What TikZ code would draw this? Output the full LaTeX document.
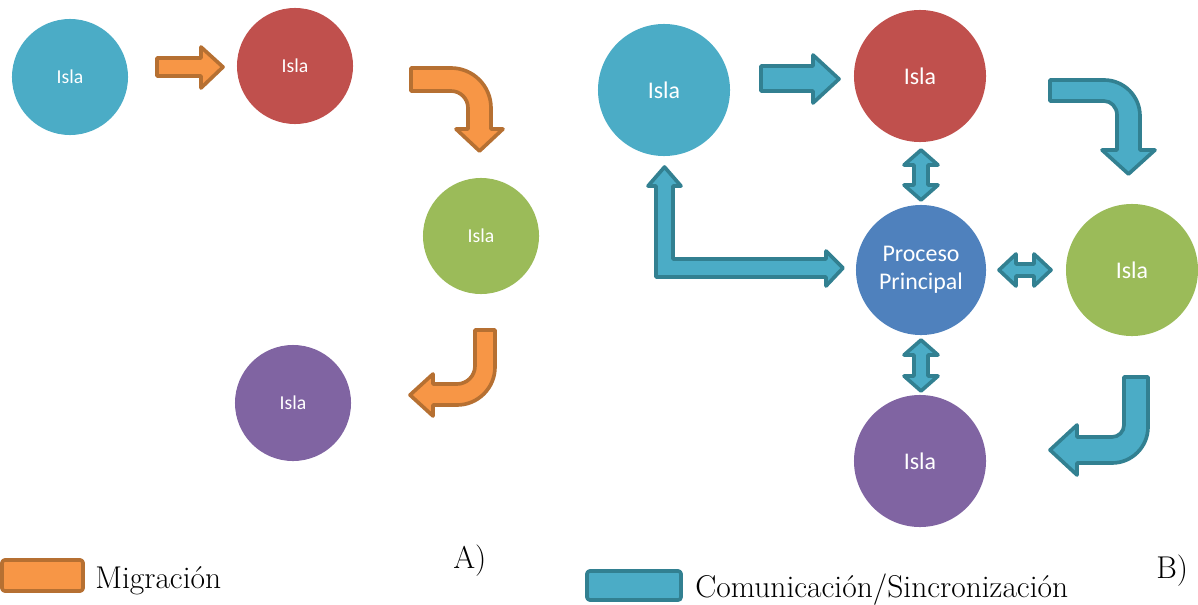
\documentclass[tikz,border=0pt]{standalone}
\usepackage{fontspec}
\newfontfamily\calib{Carlito}
\definecolor{cCyan}{HTML}{4BACC6}
\definecolor{cRed}{HTML}{C0504D}
\definecolor{cGreen}{HTML}{9BBB59}
\definecolor{cPurple}{HTML}{8064A2}
\definecolor{cBlue}{HTML}{4F81BD}
\definecolor{migFill}{HTML}{F79646}
\definecolor{migLine}{RGB}{182,112,50}
\definecolor{comFill}{HTML}{4BACC6}
\definecolor{comLine}{RGB}{50,128,145}
\begin{document}
\begin{tikzpicture}[x=0.025cm,y=-0.025cm,
  isla/.style={circle,inner sep=0pt,text=white,align=center},
  islaA/.style={isla,minimum size=2.9cm,font=\calib\fontsize{14}{17}\selectfont},
  islaB/.style={isla,minimum size=3.3cm,font=\calib\fontsize{17}{20}\selectfont},
  migr/.style={fill=migFill,draw=migLine,line width=2.6pt,line join=round},
  comu/.style={fill=comFill,draw=comLine,line width=2.6pt,line join=round},
  legend/.style={inner sep=0pt,anchor=base west,font=\fontsize{22.4}{26}\selectfont}]
\useasboundingbox (0,0) rectangle (1198,605);

% ---------------- A) migration between islands ----------------
\node[islaA,fill=cCyan]   (a1) at (70,77)   {Isla};
\node[islaA,fill=cRed]    (a2) at (295,66)  {Isla};
\node[islaA,fill=cGreen]  (a3) at (481,236) {Isla};
\node[islaA,fill=cPurple] (a4) at (293,403) {Isla};

% straight block arrow a1 -> a2
\draw[migr] (157,58) -- (201,58) -- (201,47) -- (223,67) -- (201,88)
  -- (201,76) -- (157,76) -- cycle;
% bent block arrow a2 -> a3
\draw[migr] (411,68) -- (451,68) .. controls (473.1,68) and (491,85.9) .. (491,108)
  -- (491,129) -- (503,129) -- (479.5,151) -- (456,129) -- (468,129) -- (468,108)
  .. controls (468,98.6) and (460.4,91) .. (451,91) -- (411,91) -- cycle;
% bent block arrow a3 -> a4
\draw[migr] (475,330) -- (495,330) -- (495,367) .. controls (495,388) and (478,405) .. (457,405)
  -- (433,405) -- (433,416) -- (410,395) -- (433,374) -- (433,384) -- (457,384)
  .. controls (466.9,384) and (475,375.9) .. (475,366) -- cycle;

% ---------------- B) islands around the main process ----------------
\node[islaB,fill=cCyan]   (b1) at (664,90)   {Isla};
\node[islaB,fill=cRed]    (b2) at (920,76)   {Isla};
\node[islaB,fill=cBlue,minimum size=3.25cm] (pp) at (921,270) {Proceso\\Principal};
\node[islaB,fill=cGreen]  (b3) at (1132,270) {Isla};
\node[islaB,fill=cPurple] (b4) at (920,461)  {Isla};

% straight block arrow b1 -> b2
\draw[comu] (761,66) -- (813,66) -- (813,55) -- (839,79) -- (813,103)
  -- (813,91) -- (761,91) -- cycle;
% bent block arrow b2 -> b3
\draw[comu] (1050,80) -- (1104,80) .. controls (1123.9,80) and (1140,96.1) .. (1140,116)
  -- (1140,150) -- (1155,150) -- (1128.5,174) -- (1102,150) -- (1117,150) -- (1117,115)
  .. controls (1117,107) and (1111,101) .. (1104,101) -- (1050,101) -- cycle;
% bent block arrow b3 -> b4
\draw[comu] (1124,377) -- (1148,377) -- (1148,427) .. controls (1148,446.9) and (1131.9,463) .. (1112,463)
  -- (1077,463) -- (1077,475) -- (1050,450) -- (1077,425) -- (1077,437) -- (1112,437)
  .. controls (1118.6,437) and (1124,431.6) .. (1124,425) -- cycle;
% L-shaped two-headed arrow b1 <-> pp
\draw[comu] (656,186) -- (648,186) -- (664.5,167) -- (681,186) -- (673,186) -- (673,259)
  -- (826,259) -- (826,251) -- (843,268) -- (826,286) -- (826,277) -- (656,277) -- cycle;
% two-headed arrow b2 <-> pp
\draw[comu] (921,150) -- (938,165) -- (928,165) -- (928,185) -- (938,185) -- (921,200)
  -- (904,185) -- (914,185) -- (914,165) -- (904,165) -- cycle;
% two-headed arrow pp <-> b4
\draw[comu] (921,340) -- (938,355) -- (928,355) -- (928,376) -- (938,376) -- (921,391)
  -- (904,376) -- (914,376) -- (914,355) -- (904,355) -- cycle;
% two-headed arrow pp <-> b3
\draw[comu] (999,270) -- (1016,254) -- (1016,264) -- (1034,264) -- (1034,254) -- (1051,270)
  -- (1034,286) -- (1034,276) -- (1016,276) -- (1016,286) -- cycle;

% ---------------- legend and labels ----------------
\draw[migr,rounded corners=2pt] (2,560) rectangle (83,591);
\node[legend] (lgm) at (95,588) {Migración};
\draw[comu,rounded corners=2pt] (587,571) rectangle (681,600);
\node[legend] (lgc) at (695,597) {Comunicación/Sincronización};
\node[legend] (la) at (453,568) {A)};
\node[legend] (lb) at (1156,578) {B)};
\end{tikzpicture}
\end{document}
